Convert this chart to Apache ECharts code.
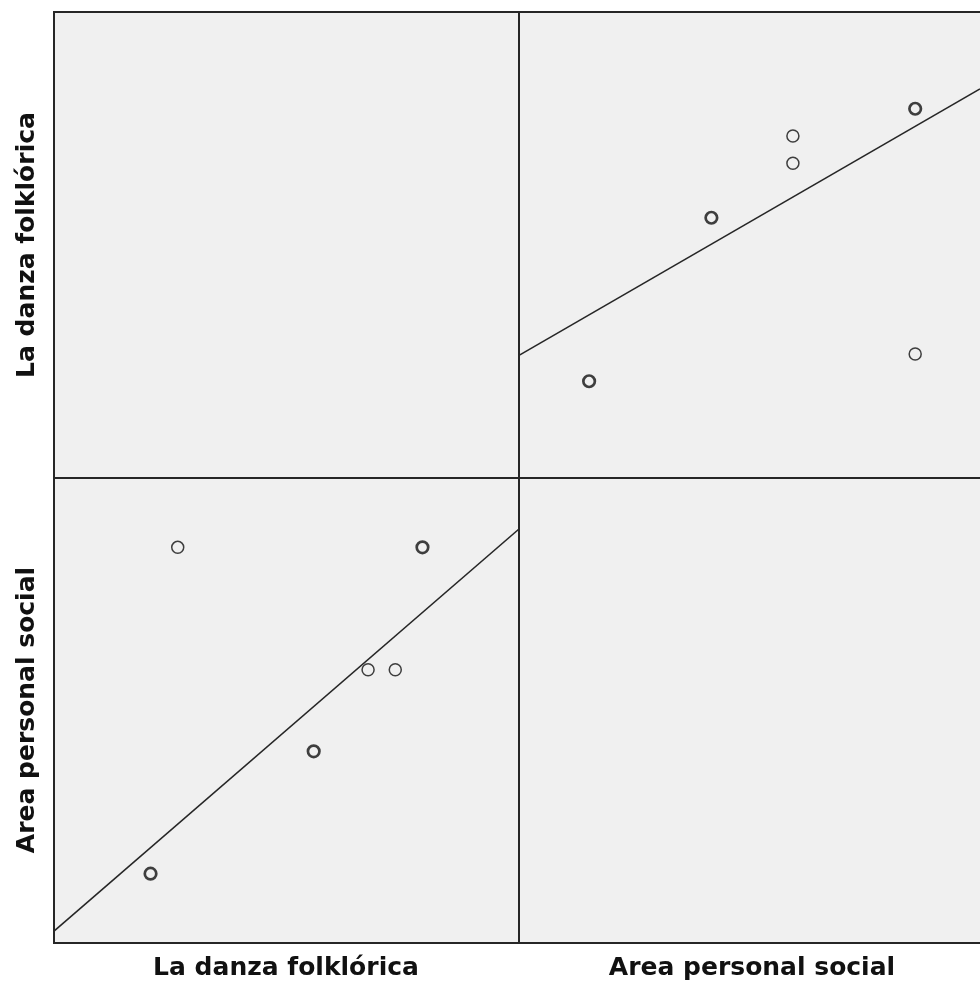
<!DOCTYPE html>
<html>
<head>
<meta charset="utf-8">
<script src="https://cdn.jsdelivr.net/npm/echarts@6/dist/echarts.min.js"></script>
<style>
  html, body { margin: 0; padding: 0; background: #ffffff; }
  #chart { width: 980px; height: 986px; }
</style>
</head>
<body>
<div id="chart"></div>
<script>
// Variables in the scatterplot matrix
const variables = ['La danza folklórica', 'Area personal social'];

const danza = [30, 31, 36, 38, 39, 40];
const area  = [20, 28, 23, 25, 25, 28];
const counts = [2, 1, 2, 1, 1, 2];

// Axis ranges (right column is cut off by the image edge)
const danzaRange = [26.45, 43.55];
const areaRangeY = [18.3, 29.7];
const areaRangeX = [18.28, 29.59];

// Fit lines: endpoints at axis extents
const fitAreaOnDanza = [[26.45, 18.59], [43.55, 28.45]];   // bottom-left panel (y=area, x=danza)
const fitDanzaOnArea = [[18.28, 30.95], [29.59, 40.73]];   // top-right panel (y=danza, x=area)

const chart = echarts.init(document.getElementById('chart'));

const panelBg = '#f0f0f0';
const lineCol = '#262626';

function grid(left, top, width, height, bw) {
  return { left, top, width, height, show: true, backgroundColor: panelBg,
           borderColor: lineCol, borderWidth: bw, containLabel: false };
}
function hiddenAxis(idx, range) {
  return { type: 'value', gridIndex: idx, min: range[0], max: range[1], show: false,
           splitLine: { show: false } };
}

function pointStyle(c) {
  return c > 1 ? { borderWidth: 2.7 } : { borderWidth: 1.5 };
}
const blPts = danza.map((d, i) => ({ value: [d, area[i]], itemStyle: pointStyle(counts[i]),
  symbolSize: counts[i] > 1 ? 11.5 : 12 }));
const trPts = danza.map((d, i) => ({ value: [area[i], d], itemStyle: pointStyle(counts[i]),
  symbolSize: counts[i] > 1 ? 11.5 : 12 }));

const markerStyle = { color: 'rgba(0,0,0,0)', borderColor: '#111' };
const labelFont = 'bold 25px "DejaVu Sans", sans-serif';
const frame = { stroke: lineCol, lineWidth: 2 };

chart.setOption({
  animation: false,
  backgroundColor: '#ffffff',
  grid: [
    grid(54, 12, 465, 466, 0),   // top-left (empty)
    grid(519, 12, 461, 466, 0),  // top-right
    grid(54, 478, 465, 465, 0),  // bottom-left
    grid(519, 478, 461, 465, 0)  // bottom-right (empty)
  ],
  xAxis: [
    hiddenAxis(0, danzaRange),
    hiddenAxis(1, areaRangeX),
    hiddenAxis(2, danzaRange),
    hiddenAxis(3, areaRangeX)
  ],
  yAxis: [
    hiddenAxis(0, danzaRange),
    hiddenAxis(1, danzaRange),
    hiddenAxis(2, areaRangeY),
    hiddenAxis(3, areaRangeY)
  ],
  series: [
    { type: 'line', xAxisIndex: 1, yAxisIndex: 1, data: fitDanzaOnArea, showSymbol: false,
      symbol: 'none', lineStyle: { color: lineCol, width: 1.6 }, z: 2 },
    { type: 'line', xAxisIndex: 2, yAxisIndex: 2, data: fitAreaOnDanza, showSymbol: false,
      symbol: 'none', lineStyle: { color: lineCol, width: 1.6 }, z: 2 },
    { type: 'scatter', xAxisIndex: 1, yAxisIndex: 1, data: trPts, symbol: 'circle',
      itemStyle: markerStyle, z: 3 },
    { type: 'scatter', xAxisIndex: 2, yAxisIndex: 2, data: blPts, symbol: 'circle',
      itemStyle: markerStyle, z: 3 }
  ],
  graphic: [
    // matrix frame and dividers (right edge of the right column lies outside the image)
    { type: 'line', shape: { x1: 53, y1: 12, x2: 980, y2: 12 }, style: frame, z: 10 },
    { type: 'line', shape: { x1: 53, y1: 478, x2: 980, y2: 478 }, style: frame, z: 10 },
    { type: 'line', shape: { x1: 53, y1: 943, x2: 980, y2: 943 }, style: frame, z: 10 },
    { type: 'line', shape: { x1: 54, y1: 11, x2: 54, y2: 944 }, style: frame, z: 10 },
    { type: 'line', shape: { x1: 519, y1: 11, x2: 519, y2: 944 }, style: frame, z: 10 },
    { type: 'text', x: 286, y: 968, style: { text: variables[0], fill: '#111',
      font: labelFont, align: 'center', verticalAlign: 'middle' } },
    { type: 'text', x: 752, y: 968, style: { text: variables[1], fill: '#111',
      font: labelFont, align: 'center', verticalAlign: 'middle' } },
    { type: 'text', x: 27, y: 245, rotation: Math.PI / 2, style: { text: variables[0], fill: '#111',
      font: labelFont, align: 'center', verticalAlign: 'middle' } },
    { type: 'text', x: 27, y: 710, rotation: Math.PI / 2, style: { text: variables[1], fill: '#111',
      font: labelFont, align: 'center', verticalAlign: 'middle' } }
  ]
});
</script>
</body>
</html>
